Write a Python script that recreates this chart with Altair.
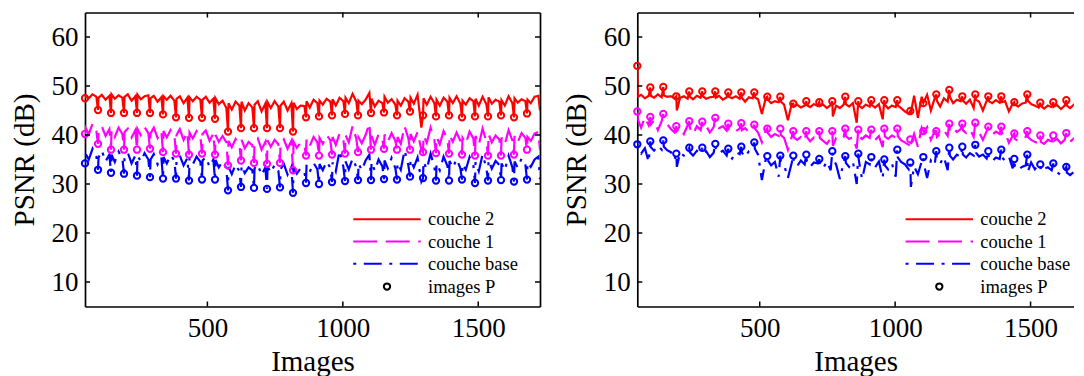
import altair as alt
import pandas as pd

FONT = "Liberation Serif"
SERIES = ["couche 2", "couche 1", "couche base"]
COLORS = ["#ff0000", "#ff00ff", "#0000ff"]
DASHES = [[1, 0], [24, 8.5], [3, 7.5, 18, 7.5]]
P_LABEL = "images P"

X_TICKS = [500, 1000, 1500]
Y_TICKS = [10, 20, 30, 40, 50, 60]
X_DOMAIN_L = [48, 1728]
X_DOMAIN_R = [48, 1660]   # right panel is cut by the picture edge
Y_DOMAIN = [5, 65]

# frames of the P images (one every 48 frames)
P_FRAMES = [48, 96, 144, 192, 240, 288, 336, 384, 432, 480, 528, 576,
            624, 672, 720, 768, 816, 864, 912, 960, 1008, 1056, 1104, 1152,
            1200, 1248, 1296, 1344, 1392, 1440, 1488, 1536, 1584, 1632, 1680, 1728]
# offsets (in frames, after each P image) of the values read between P images
BAND_OFFSETS = [2, 14, 28, 42]

# ---------------- left panel ----------------
L_RED_P = [47.5, 45.1, 44.5, 44.5, 44.5, 44.5, 44.2, 43.6, 43.5, 43.5, 43.3, 40.7,
           41.4, 41.4, 41.4, 41.4, 40.7, 43.6, 43.8, 44.0, 44.3, 44.0, 44.5, 44.6,
           44.0, 44.8, 44.0, 43.8, 44.0, 43.6, 43.8, 43.8, 44.0, 43.6, 44.4, 45.0]
L_RED_BAND = [
    [48.0, 47.5, 48.3, 47.8], [47.6, 48.2, 47.2, 48.0], [48.3, 47.4, 48.1, 47.6],
    [47.8, 48.3, 47.0, 47.9], [48.2, 47.3, 47.9, 48.1], [47.5, 48.0, 46.8, 47.7],
    [47.9, 47.2, 48.0, 47.0], [47.4, 47.9, 46.5, 47.6], [47.7, 46.9, 47.8, 47.2],
    [47.2, 47.8, 46.6, 47.4], [47.5, 46.3, 47.0, 45.5], [46.5, 45.2, 46.8, 46.0],
    [46.8, 45.0, 46.5, 45.6], [46.2, 46.9, 44.8, 46.4], [46.7, 45.5, 46.9, 45.8],
    [46.0, 46.8, 45.0, 46.5], [46.6, 45.3, 46.0, 45.9], [46.9, 45.6, 47.2, 46.5],
    [47.0, 46.2, 47.4, 46.8], [47.3, 46.0, 47.6, 46.9], [47.6, 46.5, 48.4, 46.8],
    [47.0, 46.3, 47.2, 48.6], [47.4, 45.8, 47.0, 46.5], [47.8, 46.6, 47.3, 46.2],
    [47.0, 46.0, 47.5, 46.8], [47.6, 46.4, 48.2, 41.5], [47.5, 46.2, 47.8, 46.5],
    [47.2, 46.0, 47.6, 46.8], [47.6, 46.5, 47.9, 46.4], [47.0, 46.2, 47.5, 46.9],
    [47.4, 46.0, 47.8, 46.3], [47.7, 46.4, 47.2, 46.8], [47.1, 46.0, 47.9, 46.5],
    [47.5, 46.6, 47.3, 46.9], [47.2, 46.5, 47.8, 48.0]]

L_MAG_P = [40.2, 38.2, 37.0, 37.0, 37.0, 37.2, 36.5, 36.2, 36.0, 36.2, 36.0, 33.8,
           34.8, 34.3, 34.1, 34.3, 32.8, 35.8, 35.8, 36.0, 36.2, 36.5, 37.0, 37.2,
           37.0, 37.0, 36.5, 36.3, 36.2, 36.0, 35.8, 35.8, 35.8, 36.0, 37.0, 37.0]
L_MAG_BAND = [
    [41.5, 40.2, 42.3, 40.8], [40.5, 41.8, 39.8, 41.2], [41.0, 39.6, 41.5, 40.2],
    [40.6, 41.3, 39.5, 41.0], [41.2, 40.0, 41.6, 40.4], [40.3, 41.5, 39.4, 40.8],
    [40.8, 39.5, 41.0, 40.0], [40.0, 41.2, 39.0, 40.6], [40.5, 39.3, 40.8, 39.8],
    [40.2, 40.9, 38.8, 40.3], [40.0, 38.6, 39.8, 38.5], [38.8, 37.5, 39.2, 38.0],
    [39.0, 37.3, 38.6, 37.9], [38.5, 39.3, 37.0, 38.6], [38.9, 37.6, 39.0, 38.1],
    [38.3, 39.1, 37.2, 38.8], [38.6, 37.4, 38.4, 38.0], [39.2, 37.8, 39.6, 38.5],
    [39.4, 38.2, 40.0, 38.9], [39.6, 38.0, 40.3, 39.0], [40.0, 38.5, 41.8, 39.2],
    [39.5, 38.3, 40.0, 42.4], [39.8, 38.0, 40.2, 39.0], [40.1, 38.6, 40.4, 38.8],
    [39.6, 38.2, 41.8, 39.3], [40.2, 38.7, 40.6, 37.0], [39.9, 38.4, 41.5, 39.0],
    [39.6, 38.1, 40.8, 39.2], [40.0, 38.6, 40.5, 38.8], [39.4, 38.2, 40.7, 39.3],
    [39.8, 38.0, 41.3, 38.7], [40.2, 38.5, 39.9, 39.1], [39.5, 38.1, 41.0, 38.9],
    [39.9, 38.6, 40.4, 39.4], [39.6, 38.8, 40.3, 40.6]]

L_BLUE_P = [34.2, 32.9, 32.3, 32.1, 31.7, 31.4, 31.1, 31.1, 30.7, 30.9, 30.9, 28.7,
            29.4, 29.2, 29.0, 29.3, 28.2, 30.2, 30.0, 30.4, 30.6, 30.8, 30.8, 31.0,
            30.9, 31.5, 31.2, 30.7, 30.7, 30.9, 30.2, 30.7, 30.8, 30.5, 30.9, 31.0]
L_BLUE_BAND = [
    [36.2, 35.0, 37.2, 35.6], [35.4, 36.8, 34.6, 36.0], [36.0, 34.5, 36.6, 35.2],
    [35.2, 36.4, 34.2, 35.8], [35.8, 34.6, 36.3, 35.0], [35.0, 36.1, 34.0, 35.5],
    [35.5, 34.2, 35.9, 34.8], [34.9, 35.8, 33.8, 35.3], [35.3, 34.0, 35.6, 34.5],
    [34.8, 35.5, 33.5, 35.0], [34.9, 33.4, 34.6, 33.2], [33.5, 32.0, 34.0, 32.6],
    [33.8, 32.2, 33.4, 32.8], [33.2, 34.0, 31.8, 33.4], [33.6, 32.3, 33.9, 32.7],
    [33.0, 34.1, 31.9, 33.5], [33.4, 32.1, 33.2, 32.6], [33.9, 32.5, 34.3, 33.0],
    [34.1, 32.8, 34.6, 33.3], [34.4, 32.6, 36.8, 33.5], [34.6, 33.0, 35.2, 33.4],
    [34.2, 32.8, 34.8, 36.0], [34.5, 32.7, 35.0, 33.6], [34.8, 33.2, 35.3, 33.2],
    [34.3, 32.9, 36.9, 33.8], [35.0, 33.4, 35.4, 30.5], [34.6, 33.0, 36.2, 33.5],
    [34.2, 32.8, 35.6, 33.7], [34.7, 33.3, 35.1, 33.2], [34.1, 32.9, 35.5, 33.8],
    [34.5, 32.6, 36.0, 33.3], [34.9, 33.1, 34.7, 33.9], [34.2, 32.8, 35.8, 33.4],
    [34.6, 33.3, 35.2, 34.0], [34.4, 33.5, 35.0, 35.6]]

# ---------------- right panel ----------------
R_RED_P = [54.1, 49.7, 49.8, 47.9, 48.9, 48.9, 48.9, 48.7, 48.7, 48.7, 47.8, 47.8,
           46.4, 46.9, 46.7, 46.9, 47.8, 46.9, 47.1, 47.1, 47.1, 44.9, 46.5, 48.3,
           49.2, 47.9, 48.3, 47.9, 47.9, 46.7, 48.3, 46.6, 46.7, 47.1, 46.7, 46.5]
R_RED_BAND = [
    [47.8, 48.2, 47.5, 48.0], [48.0, 47.6, 48.3, 47.7], [48.1, 47.8, 47.9, 47.5],
    [45.0, 47.6, 47.9, 47.4], [47.8, 47.3, 48.0, 47.6], [47.9, 47.4, 47.7, 47.8],
    [47.6, 48.0, 47.2, 47.7], [47.8, 47.5, 47.9, 47.4], [47.6, 46.8, 47.7, 47.5],
    [47.7, 47.3, 44.3, 47.5], [47.2, 46.5, 46.9, 46.7], [46.8, 46.2, 43.0, 46.3],
    [45.8, 46.2, 45.6, 46.0], [46.1, 45.7, 46.3, 45.9], [45.9, 46.2, 45.5, 46.1],
    [43.8, 46.0, 45.5, 46.2], [46.3, 45.8, 46.5, 42.5], [46.0, 45.5, 46.2, 45.8],
    [46.1, 45.6, 46.3, 43.2], [46.2, 45.4, 46.0, 45.7], [46.0, 45.5, 44.8, 44.3],
    [44.5, 48.0, 43.5, 47.8], [46.8, 48.2, 45.0, 47.5], [47.0, 45.8, 47.5, 46.8],
    [47.8, 46.5, 47.2, 46.9], [47.0, 46.4, 47.2, 45.5], [47.2, 46.8, 45.0, 47.0],
    [46.9, 46.5, 47.1, 46.6], [46.7, 46.9, 44.8, 46.4], [46.2, 45.8, 46.4, 46.6],
    [47.0, 46.3, 46.0, 45.6], [45.9, 45.4, 46.0, 45.7], [45.8, 46.1, 45.3, 46.0],
    [46.0, 45.5, 46.2, 45.6], [45.7, 46.1, 45.4, 45.9]]

R_MAG_P = [44.8, 43.7, 44.3, 41.8, 42.8, 42.7, 43.5, 42.3, 42.4, 42.1, 41.3, 41.3,
           40.8, 40.8, 40.8, 40.8, 41.3, 41.1, 41.1, 41.3, 41.3, 39.1, 40.8, 40.8,
           42.3, 42.3, 42.5, 41.7, 41.7, 40.3, 40.8, 39.9, 39.9, 40.4, 40.8, 40.5]
R_MAG_BAND = [
    [43.2, 41.5, 43.6, 42.0], [42.2, 43.0, 41.0, 42.8], [43.0, 42.3, 41.2, 40.5],
    [40.8, 41.5, 40.2, 42.0], [41.5, 40.2, 41.8, 41.0], [41.3, 41.9, 40.5, 41.6],
    [42.0, 41.4, 41.8, 40.9], [41.2, 41.5, 40.8, 41.3], [41.0, 41.4, 40.6, 41.2],
    [41.3, 40.5, 38.5, 40.8], [40.4, 39.6, 40.2, 39.8], [40.0, 39.4, 37.0, 39.6],
    [39.5, 39.0, 39.6, 38.8], [39.6, 38.7, 39.5, 39.2], [39.4, 38.8, 38.2, 39.3],
    [37.8, 39.4, 39.0, 39.6], [39.8, 39.2, 39.6, 37.2], [39.8, 39.2, 39.9, 39.4],
    [39.6, 39.0, 39.8, 37.5], [39.7, 39.2, 39.9, 39.5], [39.8, 38.9, 38.5, 38.0],
    [38.2, 40.2, 37.6, 41.5], [40.5, 41.6, 39.0, 40.8], [39.6, 40.2, 41.0, 39.8],
    [40.8, 41.5, 40.6, 41.2], [41.0, 40.4, 41.2, 39.6], [41.2, 40.6, 39.0, 40.8],
    [40.5, 40.0, 40.7, 40.2], [40.3, 40.6, 38.4, 39.8], [39.2, 38.8, 39.4, 39.6],
    [39.6, 39.0, 38.6, 38.3], [38.6, 38.2, 39.0, 38.7], [38.8, 39.2, 38.3, 39.0],
    [39.2, 38.6, 39.3, 38.9], [39.0, 39.4, 38.5, 39.2]]

R_BLUE_P = [38.1, 38.7, 38.9, 36.2, 37.4, 37.4, 38.2, 37.2, 37.6, 38.5, 35.7, 35.8,
            35.8, 36.0, 35.1, 36.7, 35.7, 36.2, 35.5, 35.0, 37.0, 34.4, 35.5, 36.7,
            37.4, 37.6, 38.0, 36.7, 37.0, 35.1, 36.0, 34.0, 34.2, 33.5, 36.4, 35.0]
R_BLUE_BAND = [
    [37.0, 36.2, 37.3, 34.5], [37.5, 36.8, 37.8, 37.0], [37.6, 36.9, 36.5, 35.0],
    [33.5, 36.4, 35.8, 36.6], [36.5, 35.8, 36.8, 36.2], [36.2, 36.7, 35.5, 36.4],
    [37.0, 36.3, 36.8, 35.8], [36.0, 35.2, 36.5, 36.1], [36.4, 35.5, 36.7, 36.9],
    [37.2, 36.0, 30.8, 35.0], [34.8, 33.8, 34.5, 31.5], [34.6, 33.9, 31.2, 34.3],
    [34.5, 33.6, 34.8, 34.0], [34.7, 33.5, 34.4, 34.2], [34.0, 33.2, 34.6, 32.8],
    [35.2, 34.0, 31.0, 34.5], [34.3, 33.5, 34.6, 30.0], [34.8, 31.0, 34.5, 34.0],
    [34.2, 33.4, 34.6, 31.2], [33.8, 33.0, 34.2, 31.5], [35.4, 34.5, 34.0, 33.0],
    [29.4, 33.6, 32.0, 34.6], [34.0, 31.2, 34.8, 33.9], [35.0, 34.2, 35.5, 32.8],
    [35.8, 35.0, 36.0, 35.5], [36.0, 35.4, 36.3, 35.8], [36.4, 35.6, 36.0, 35.2],
    [35.3, 34.6, 35.4, 35.1], [35.4, 34.8, 35.6, 33.2], [33.6, 32.8, 33.5, 33.8],
    [32.5, 34.4, 33.0, 34.0], [32.6, 33.1, 33.4, 32.8], [33.0, 32.4, 31.8, 32.9],
    [32.3, 31.8, 32.5, 33.5], [34.8, 33.9, 34.5, 34.2]]

H = 294
PX_PER_FRAME = 455 / (X_DOMAIN_L[1] - X_DOMAIN_L[0])


def build_series(name, p_vals, band_rows):
    frames, vals = [], []
    for k, f in enumerate(P_FRAMES):
        frames.append(f)
        vals.append(p_vals[k])
        if k < len(band_rows):
            for off, v in zip(BAND_OFFSETS, band_rows[k]):
                frames.append(f + off)
                vals.append(v)
    line = pd.DataFrame({"frame": frames, "psnr": vals, "serie": name})
    pts = pd.DataFrame({"frame": P_FRAMES, "psnr": p_vals, "serie": name, "ptype": P_LABEL})
    return line, pts


def panel(red, mag, blue, x_domain, with_right):
    W = round((x_domain[1] - x_domain[0]) * PX_PER_FRAME, 1)
    parts = [build_series(SERIES[0], *red), build_series(SERIES[1], *mag),
             build_series(SERIES[2], *blue)]
    line_df = pd.concat([p[0] for p in parts], ignore_index=True)
    pts_df = pd.concat([p[1] for p in parts], ignore_index=True)

    xs = alt.Scale(domain=x_domain, nice=False, zero=False)
    ys = alt.Scale(domain=Y_DOMAIN, nice=False, zero=False)

    line_legend = alt.Legend(
        title=None, orient="none", legendX=317.5, legendY=197.5, direction="vertical",
        symbolType="M-7.31,0H1.12", symbolSize=256, symbolStrokeWidth=2,
        labelOffset=7, rowPadding=3.3, padding=0, symbolOffset=0)
    p_legend = alt.Legend(
        title=None, orient="none", legendX=317.5, legendY=264.8, direction="vertical",
        symbolType="circle", symbolSize=40, symbolStrokeWidth=2,
        symbolStrokeColor="black", symbolFillColor="transparent",
        labelOffset=31.75, padding=0, symbolOffset=-24.75)

    lines = alt.Chart(line_df).mark_line(strokeWidth=2.2, clip=True).encode(
        x=alt.X("frame:Q", scale=xs,
                axis=alt.Axis(orient="bottom", values=X_TICKS, format="d", title="Images",
                              labelPadding=9.2, titlePadding=6)),
        y=alt.Y("psnr:Q", scale=ys,
                axis=alt.Axis(orient="left", values=Y_TICKS, format="d", title="PSNR (dB)",
                              labelPadding=7, titlePadding=12)),
        color=alt.Color("serie:N", scale=alt.Scale(domain=SERIES, range=COLORS),
                        legend=line_legend),
        strokeDash=alt.StrokeDash("serie:N", scale=alt.Scale(domain=SERIES, range=DASHES),
                                  legend=line_legend),
    )

    points = alt.Chart(pts_df).transform_filter(
        alt.datum.frame <= x_domain[1] - 12
    ).mark_point(
        shape="circle", filled=False, size=40, strokeWidth=2, color="black", opacity=1
    ).encode(
        x=alt.X("frame:Q", scale=xs, axis=None),
        y=alt.Y("psnr:Q", scale=ys, axis=None),
        stroke=alt.Stroke("serie:N", scale=alt.Scale(domain=SERIES, range=COLORS), legend=None),
        shape=alt.Shape("ptype:N", scale=alt.Scale(domain=[P_LABEL], range=["circle"]),
                        legend=p_legend),
    )

    tx = pd.DataFrame({"t": X_TICKS})
    ty = pd.DataFrame({"t": Y_TICKS})
    rule = dict(color="black", strokeWidth=1.5)
    t_bottom = alt.Chart(tx).mark_rule(**rule).encode(
        x=alt.X("t:Q", scale=xs, axis=None), y=alt.value(H), y2=alt.value(H - 5))
    t_top = alt.Chart(tx).mark_rule(**rule).encode(
        x=alt.X("t:Q", scale=xs,
                axis=alt.Axis(orient="top", labels=False, ticks=False, title=None, domain=True)),
        y=alt.value(0), y2=alt.value(5))
    t_left = alt.Chart(ty).mark_rule(**rule).encode(
        y=alt.Y("t:Q", scale=ys, axis=None), x=alt.value(0), x2=alt.value(5))
    layers = [lines, points, t_bottom, t_top, t_left]
    if with_right:
        t_right = alt.Chart(ty).mark_rule(**rule).encode(
            y=alt.Y("t:Q", scale=ys,
                    axis=alt.Axis(orient="right", labels=False, ticks=False, title=None,
                                  domain=True)),
            x=alt.value(W), x2=alt.value(W - 5))
        layers.append(t_right)

    return alt.layer(*layers).resolve_axis(
        x="independent", y="independent").properties(width=W, height=H)


left = panel((L_RED_P, L_RED_BAND), (L_MAG_P, L_MAG_BAND), (L_BLUE_P, L_BLUE_BAND),
             X_DOMAIN_L, True)
right = panel((R_RED_P, R_RED_BAND), (R_MAG_P, R_MAG_BAND), (R_BLUE_P, R_BLUE_BAND),
              X_DOMAIN_R, False)

chart = alt.hconcat(left, right, spacing=21.3).resolve_scale(
    x="independent", y="independent", color="independent", strokeDash="independent",
    stroke="independent", shape="independent"
).resolve_legend(
    color="independent", strokeDash="independent", shape="independent"
).configure_view(strokeWidth=0).configure_axis(
    labelFont=FONT, labelFontSize=27, labelColor="black",
    titleFont=FONT, titleFontSize=29, titleFontWeight="normal", titleColor="black",
    grid=False, domainColor="black", domainWidth=1.7, tickSize=0,
).configure_legend(
    labelFont=FONT, labelFontSize=18.5, labelColor="black",
).properties(padding={"left": 2, "top": 3.5, "right": 0, "bottom": 0})

chart.save("out.html", embed_options={"renderer": "svg", "actions": False})
